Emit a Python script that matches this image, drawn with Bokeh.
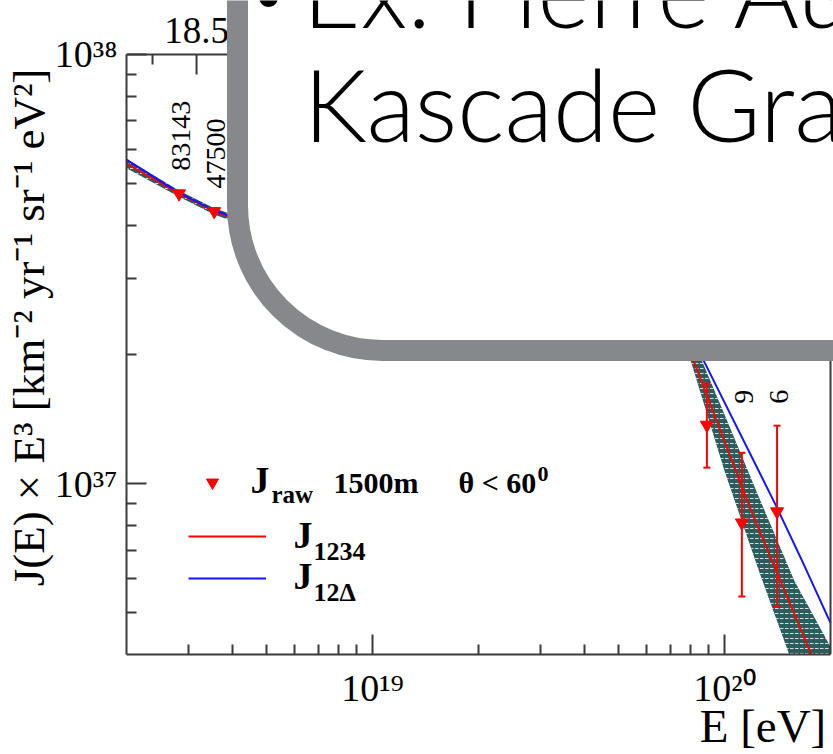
from math import pi, log10
from bokeh.plotting import figure
from bokeh.models import (Range1d, FixedTicker, Whisker, TeeHead, Span,
                          ColumnDataSource, Label, BoxAnnotation, Legend, LegendItem,
                          CustomJSTickFormatter)
from bokeh.core.properties import value
from bokeh.embed import file_html
from bokeh.resources import INLINE

# ---------------- data ----------------
# J_raw 1500m, theta < 60 deg : energy-bin centres [eV], J*E^3 [km^-2 yr^-1 sr^-1 eV^2]
pts_E = [2.82e18, 3.55e18, 8.91e19, 1.12e20, 1.41e20]
pts_J = [4.74e37, 4.31e37, 1.37e37, 8.11e36, 8.61e36]
pts_J_lo = [4.72e37, 4.29e37, 1.09e37, 5.46e36, 5.16e36]
pts_J_hi = [4.76e37, 4.33e37, 1.71e37, 1.18e37, 1.365e37]
pts_counts = ["83143", "47500", "", "9", "6"]

# J_1234 model
j1234_E = [2.0e18, 2.82e18, 3.55e18, 5.0e18, 7.1e18, 1.0e19, 1.58e19, 2.5e19, 4.0e19,
           5.6e19, 7.1e19, 8.22e19, 1.19e20, 1.76e20, 2.0e20]
j1234_J = [5.57e37, 4.74e37, 4.31e37, 3.9e37, 3.7e37, 3.7e37, 3.8e37, 3.85e37, 3.6e37,
           3.1e37, 2.6e37, 1.91e37, 8.65e36, 4.02e36, 3.13e36]

# J_12Delta model
j12d_E = [2.0e18, 2.82e18, 3.55e18, 5.0e18, 7.1e18, 1.0e19, 1.58e19, 2.5e19, 4.0e19,
          5.6e19, 7.1e19, 8.71e19, 1.40e20, 1.66e20, 2.0e20]
j12d_J = [5.69e37, 4.76e37, 4.33e37, 3.95e37, 3.8e37, 3.8e37, 3.95e37, 4.05e37, 3.9e37,
          3.4e37, 2.72e37, 1.94e37, 8.89e36, 6.62e36, 4.74e36]

# uncertainty band of J_1234
band_E = [2.0e18, 2.82e18, 3.55e18, 5.0e18, 1.0e19, 2.5e19, 4.0e19, 5.6e19, 7.08e19,
          8.05e19, 1.0e20, 1.26e20, 1.58e20, 2.0e20]
band_lo = [5.43e37, 4.66e37, 4.24e37, 3.82e37, 3.6e37, 3.7e37, 3.4e37, 2.9e37, 2.5e37,
           1.91e37, 1.07e37, 6.17e36, 3.70e36, 2.24e36]
band_hi = [5.71e37, 4.82e37, 4.38e37, 3.98e37, 3.8e37, 4.0e37, 3.8e37, 3.3e37, 2.88e37,
           2.21e37, 1.45e37, 9.19e36, 5.93e36, 4.17e36]

# axes
x_start, x_stop = 2e18, 2e20
y_start, y_stop = 4e36, 1e38
x_major = [1e19, 1e20]
x_minor = [3e18, 4e18, 5e18, 6e18, 7e18, 8e18, 9e18,
           2e19, 3e19, 4e19, 5e19, 6e19, 7e19, 8e19, 9e19]
y_major = [1e37, 1e38]
y_minor = [5e36, 6e36, 7e36, 8e36, 9e36,
           2e37, 3e37, 4e37, 5e37, 6e37, 7e37, 8e37, 9e37]
lg_major = [18.5, 19.0, 19.5, 20.0]          # top axis: lg(E/eV)
lg_minor = [18.375, 18.625, 18.75, 18.875, 19.125, 19.25, 19.375,
            19.625, 19.75, 19.875, 20.125, 20.25]
lg_labels = ["18.5", "19", "19.5", "20"]

# ---------------- layout ----------------
W, H = 833, 754
FL, FR, FT, FB = 126, 830, 54, 655          # chart frame inside the canvas
AX = "#3a3a3a"
SERIF = "Liberation Serif"
SANS = "Lato Light"
RED = "#ff0000"
BLUE = "#1414ff"

# the Bokeh frame reaches the top and right canvas edges so that the
# slide call-out drawn over the chart is not clipped; the chart axes keep
# their own bounds.
x_view_end = x_start * 10 ** (log10(x_stop / x_start) * (W - FL) / (FR - FL))
y_view_end = y_start * 10 ** (log10(y_stop / y_start) * FB / (FB - FT))

p = figure(width=W, height=H, x_axis_type="log", y_axis_type="log",
           x_range=Range1d(x_start, x_view_end), y_range=Range1d(y_start, y_view_end),
           output_backend="svg", toolbar_location=None,
           min_border_left=FL, min_border_right=0,
           min_border_top=0, min_border_bottom=H - FB)
p.title.visible = False
p.background_fill_color = "white"
p.border_fill_color = "white"
p.grid.visible = False
p.outline_line_color = None

sup_fmt = CustomJSTickFormatter(code="""
const s = {"0":"\u2070","1":"\u00b9","2":"\u00b2","3":"\u00b3","4":"\u2074",
           "5":"\u2075","6":"\u2076","7":"\u2077","8":"\u2078","9":"\u2079","-":"\u207b"};
const e = Math.round(Math.log10(tick));
return "10" + String(e).split("").map(c => s[c]).join("");
""")

xb = p.below[0]
yl = p.left[0]
xb.bounds = (x_start, x_stop)
yl.bounds = (y_start, y_stop)
for ax, maj, mino in ((xb, x_major, x_minor), (yl, y_major, y_minor)):
    ax.ticker = FixedTicker(ticks=maj, minor_ticks=mino)
    ax.formatter = sup_fmt
    ax.axis_line_color = AX
    ax.axis_line_width = 2
    ax.major_tick_line_color = AX
    ax.major_tick_line_width = 2
    ax.minor_tick_line_color = AX
    ax.minor_tick_line_width = 2
    ax.major_tick_in = 20
    ax.major_tick_out = 0
    ax.minor_tick_in = 10
    ax.minor_tick_out = 0
    ax.major_label_text_font = SERIF
    ax.major_label_text_font_size = "38px"
    ax.major_label_text_color = "black"
    ax.axis_label_text_font = SERIF
    ax.axis_label_text_font_style = "normal"
    ax.axis_label_text_color = "black"

xb.major_label_standoff = 12
xb.axis_label_text_font_size = "47px"
xb.axis_label_standoff = -12
yl.major_label_standoff = 9
yl.axis_label = "J(E) \u00d7 E\u00b3 [km\u207b\u00b2 yr\u207b\u00b9 sr\u207b\u00b9 eV\u00b2]"
yl.axis_label_text_font_size = "45px"
yl.axis_label_standoff = -2
try:
    xb.axis_label_align = "end"
    # the title is centred on the end of the axis: pad it so that it ends there
    xb.axis_label = "E [eV]" + "\u2003" * 3
except Exception:
    xb.axis_label = "\u2003" * 9 + "E [eV]"

# frame edges (top and right) of the chart
p.add_layout(Span(location=y_stop, dimension="width", line_color=AX, line_width=2))
p.add_layout(Span(location=x_stop, dimension="height", line_color=AX, line_width=2))

# top lg(E) axis: ticks pointing into the frame and labels
p.ray(x=[10 ** t for t in lg_major], y=[y_stop] * len(lg_major), length=20,
      length_units="screen", angle=-pi / 2, line_color=AX, line_width=2)
p.ray(x=[10 ** t for t in lg_minor], y=[y_stop] * len(lg_minor), length=10,
      length_units="screen", angle=-pi / 2, line_color=AX, line_width=2)
for t, s in zip(lg_major, lg_labels):
    p.add_layout(Label(x=10 ** t, y=y_stop, text=s, y_offset=24, text_align="center",
                       text_baseline="alphabetic", text_font=SERIF,
                       text_font_size="37px", text_color="black"))

# ---------------- data glyphs ----------------
p.varea(x=band_E, y1=band_lo, y2=band_hi, fill_color="#2c5d5d", fill_alpha=1.0,
        hatch_pattern="horizontal_dash", hatch_color="white", hatch_alpha=0.8,
        hatch_scale=5, hatch_weight=1)
r_red = p.line(j1234_E, j1234_J, line_color=RED, line_width=2)
r_blue = p.line(j12d_E, j12d_J, line_color=BLUE, line_width=2)

n = len(pts_E)
label_y = [max(pts_J_hi[i], pts_J_hi[i + 1]) if i + 1 < n else pts_J_hi[i] for i in range(n)]
src = ColumnDataSource(dict(E=pts_E, J=pts_J, lo=pts_J_lo, hi=pts_J_hi,
                            txt=pts_counts, ly=label_y))
wh = Whisker(source=src, base="E", lower="lo", upper="hi", line_color=RED, line_width=2,
             upper_head=TeeHead(size=7, line_color=RED, line_width=2),
             lower_head=TeeHead(size=7, line_color=RED, line_width=2), level="glyph")
p.add_layout(wh)
r_pts = p.scatter("E", "J", source=src, marker="inverted_triangle", size=13,
                  fill_color=RED, line_color=RED)
p.text("E", "ly", text="txt", source=src, angle=pi / 2, text_align="left",
       text_baseline="middle", x_offset=2, y_offset=-22,
       text_font=value(SERIF), text_font_size="28px", text_color="black")

# ---------------- legend ----------------
common = dict(padding=0, margin=0, spacing=0, border_line_alpha=0, background_fill_alpha=0,
              label_text_font_size="1px", label_standoff=0, label_width=1, label_height=1)
leg1 = Legend(items=[LegendItem(label=" ", renderers=[r_pts])], location=(197 - FL, FB - 498),
              glyph_width=30, glyph_height=30, **common)
leg2 = Legend(items=[LegendItem(label=" ", renderers=[r_red]),
                     LegendItem(label=" ", renderers=[r_blue])],
              location=(188 - FL, FB - 600), glyph_width=78, glyph_height=42, **common)
p.add_layout(leg1)
p.add_layout(leg2)


def lab(text, X, Ybase, size, align="left", style="normal", font=SERIF,
        color="black", level="annotation"):
    # Ybase: wanted baseline in canvas pixels (from the top)
    k = 0.39 if font == SANS else 0.34
    p.add_layout(Label(x=X - FL, y=FB - (Ybase - k * size), x_units="screen",
                       y_units="screen", text=text, text_align=align,
                       text_baseline="alphabetic", text_font=font,
                       text_font_style=style, text_font_size=f"{size}px",
                       text_color=color, level=level))


lab("J", 250, 493, 38, style="bold")
lab("raw", 271, 503, 25, style="bold")
lab("1500m", 333, 493, 30, style="bold")
lab("\u03b8 < 60", 458, 493, 30, style="bold")
lab("0", 537, 482, 22, style="bold")
lab("J", 293, 548, 38, style="bold")
lab("1234", 313, 561, 26, style="bold")
lab("J", 293, 589, 38, style="bold")
lab("12\u0394", 313, 602, 26, style="bold")

# ---------------- slide call-out covering the chart ----------------
box = BoxAnnotation(left=237 - FL, right=1400 - FL, bottom=FB - 351, top=FB + 400,
                    left_units="screen", right_units="screen",
                    bottom_units="screen", top_units="screen",
                    fill_color="white", fill_alpha=1.0,
                    line_color="#86888b", line_width=21, line_alpha=1.0,
                    border_radius=145, level="overlay")
p.add_layout(box)
lab("\u2022", 268, 18, 64, align="center", font=SANS, level="overlay")
lab("Ex. Pierre Auger,", 302, 28, 100, font=SANS, level="overlay")
lab("Kascade Grande", 303, 142, 100, font=SANS, level="overlay")

open("out.html", "w").write(file_html(p, INLINE))
